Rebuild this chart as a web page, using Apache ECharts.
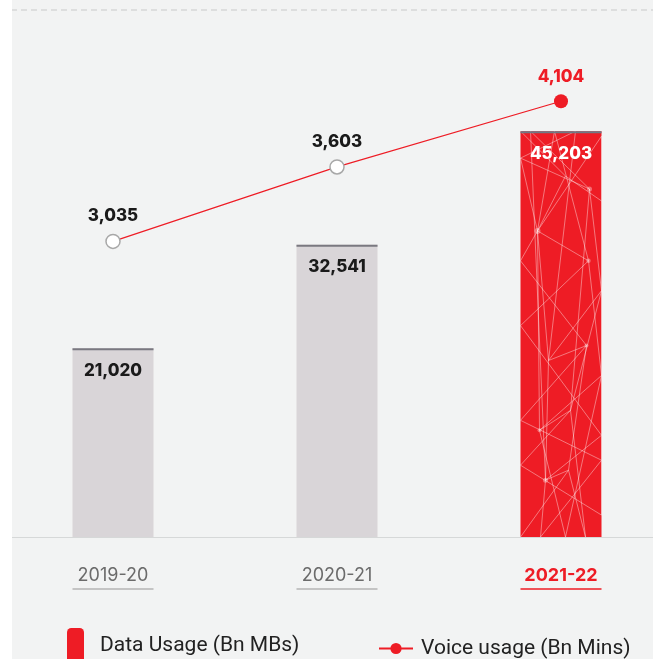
<!DOCTYPE html>
<html>
<head>
<meta charset="utf-8">
<script src="https://cdn.jsdelivr.net/npm/echarts@6/dist/echarts.min.js"></script>
<style>
  html, body { margin: 0; padding: 0; background: #fff; overflow: hidden; }
  #panel { position: absolute; left: 12px; top: 0; width: 641px; height: 659px; background: #f2f3f3; overflow: hidden; }
  #chart { position: absolute; left: -11px; top: 0; width: 672px; height: 659px; }
</style>
</head>
<body>
<div id="panel"><div id="chart"></div></div>
<script>
// chart data
const years = ['2019-20', '2020-21', '2021-22'];
const dataUsage = [21020, 32541, 45203];   // Bn MBs
const voiceUsage = [3035, 3603, 4104];     // Bn Mins

const RED = '#ee1c25';
const GREY_BAR = '#d9d5d8';
const BAR_W = 81;

// network texture on the highlighted bar, as fractions of the bar box (decoration)
const netNodes = [
  [0, 0], [10, 0], [34, 0], [55, 0], [81, 5],
  [0, 27], [45, 45], [69, 58], [81, 70],
  [17, 100], [0, 130], [68, 130], [81, 160],
  [0, 195], [28, 230], [66, 215], [81, 245],
  [0, 290], [19, 300], [50, 280], [81, 305],
  [0, 335], [25, 350], [48, 340], [81, 330],
  [0, 407], [20, 407], [45, 407], [65, 407], [81, 385]
].map(([x, y]) => [x / 81, y / 407]);
const netLinks = [
  [0, 6], [1, 7], [2, 9], [3, 5], [2, 11], [5, 7], [6, 8], [4, 9], [5, 9],
  [6, 9], [7, 12], [9, 11], [9, 10], [9, 14], [9, 18], [10, 15], [11, 13],
  [11, 16], [7, 19], [12, 14], [13, 20], [14, 15], [14, 22], [15, 17], [15, 23],
  [16, 18], [17, 24], [18, 19], [18, 27], [19, 21], [19, 28], [20, 22], [21, 29],
  [22, 23], [22, 26], [23, 25], [24, 26], [23, 28], [16, 27], [12, 19], [3, 14],
  [1, 22], [4, 29]
];
const netDots = [[9, 3], [7, 2.5], [11, 2.2], [15, 2], [22, 2.5], [18, 2]];

const chart = echarts.init(document.getElementById('chart'));

const font = 'Inter, "Noto Sans", sans-serif';
const legendFont = 'Roboto, sans-serif';
const last = years.length - 1;

const option = {
  animation: false,
  grid: { left: 0, right: 0, top: 10, bottom: 122 },
  legend: [
    {
      data: [{ name: 'Data Usage (Bn MBs)', itemStyle: { color: RED } }],
      left: 61, top: 623,
      itemWidth: 17, itemHeight: 36,
      textStyle: { fontSize: 21, color: '#222', fontFamily: legendFont, padding: [0, 0, 0, 11] }
    },
    {
      data: ['Voice usage (Bn Mins)'],
      left: 372, top: 633,
      itemWidth: 34, itemHeight: 14,
      textStyle: { fontSize: 21, color: '#222', fontFamily: legendFont, padding: [0, 0, 0, 3] }
    }
  ],
  xAxis: {
    type: 'category',
    data: years,
    axisLine: { lineStyle: { color: '#d6d8d8', width: 1.2 } },
    axisTick: { show: false },
    axisLabel: {
      margin: 30,
      formatter: (v, i) => i === last ? '{hi|' + v + '}' : '{lo|' + v + '}',
      rich: {
        lo: { fontSize: 18, color: '#6b6b6b', fontFamily: font },
        hi: { fontSize: 18, color: RED, fontWeight: 'bold', fontFamily: font }
      }
    }
  },
  yAxis: [
    {
      type: 'value', min: 0, max: 58700, interval: 58700,
      axisLabel: { show: false }, axisLine: { show: false }, axisTick: { show: false },
      splitLine: { showMinLine: false, lineStyle: { color: '#d6d8d8', type: [6, 4], width: 1.5 } }
    },
    {
      type: 'value', min: 780, max: 4800,
      show: false, splitLine: { show: false }
    }
  ],
  series: [
    {
      name: 'Data Usage (Bn MBs)',
      type: 'bar',
      barWidth: BAR_W,
      data: dataUsage.map((v, i) => ({
        value: v,
        itemStyle: { color: i === last ? RED : GREY_BAR },
        label: { color: i === last ? '#fff' : '#1a1a1a' }
      })),
      label: {
        show: true, position: 'insideTop', distance: 14,
        fontSize: 17, fontWeight: 800, fontFamily: font,
        formatter: p => p.value.toLocaleString('en-US')
      }
    },
    {
      // bar top edges, texture of the highlighted bar, underlines of year labels
      type: 'custom',
      silent: true,
      clip: false,
      z: 2,
      data: dataUsage,
      encode: { x: 0, y: 1 },
      renderItem: (params, api) => {
        const i = params.dataIndex;
        const top = api.coord([i, api.value(1)]);
        const base = api.coord([i, 0]);
        const hl = i === last;
        const x0 = top[0] - BAR_W / 2;
        const h = base[1] - top[1];
        const children = [];
        if (hl) {
          netLinks.forEach(([a, b]) => {
            children.push({
              type: 'line', z2: 5,
              shape: {
                x1: x0 + netNodes[a][0] * BAR_W, y1: top[1] + netNodes[a][1] * h,
                x2: x0 + netNodes[b][0] * BAR_W, y2: top[1] + netNodes[b][1] * h
              },
              style: { stroke: 'rgba(255,255,255,0.4)', lineWidth: 1 }
            });
          });
          netDots.forEach(([n, r]) => {
            children.push({
              type: 'circle', z2: 5,
              shape: { cx: x0 + netNodes[n][0] * BAR_W, cy: top[1] + netNodes[n][1] * h, r: r },
              style: { fill: 'rgba(255,255,255,0.35)' }
            });
          });
        }
        children.push({
          type: 'line', z2: 5,
          shape: { x1: x0, y1: top[1] + 1, x2: x0 + BAR_W, y2: top[1] + 1 },
          style: { stroke: hl ? '#6f7985' : '#7a7880', lineWidth: 2 }
        });
        children.push({
          type: 'line', z2: 5,
          shape: { x1: x0, y1: base[1] + 52, x2: x0 + BAR_W, y2: base[1] + 52 },
          style: { stroke: hl ? RED : '#b4b4b4', lineWidth: 1.5 }
        });
        return { type: 'group', children: children };
      }
    },
    {
      name: 'Voice usage (Bn Mins)',
      type: 'line',
      yAxisIndex: 1,
      symbol: 'circle',
      symbolSize: 14,
      lineStyle: { color: RED, width: 1.2 },
      itemStyle: { color: RED },
      data: voiceUsage.map((v, i) => i === last
        ? { value: v, label: { color: RED } }
        : { value: v, itemStyle: { color: '#fff', borderColor: '#a8a8a8', borderWidth: 1.5 } }),
      label: {
        show: true, position: 'top', distance: 9,
        fontSize: 17, fontWeight: 800, fontFamily: font, color: '#1a1a1a',
        formatter: p => p.value.toLocaleString('en-US')
      },
      z: 5
    }
  ]
};

chart.setOption(option);
</script>
</body>
</html>
